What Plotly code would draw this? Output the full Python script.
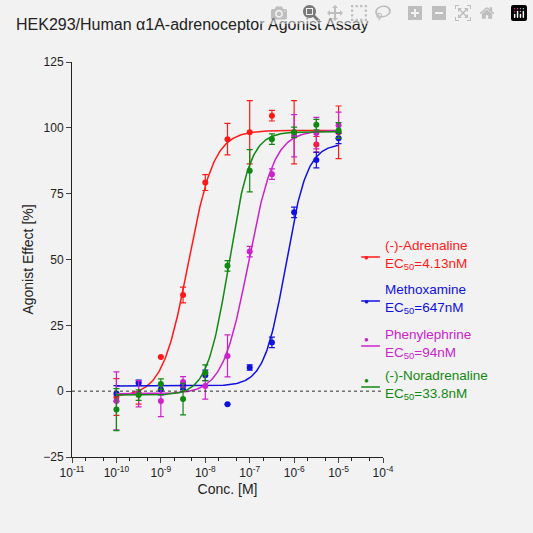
import plotly.graph_objects as go
import numpy as np

conc = [1e-10, 3.16e-10, 1e-9, 3.16e-9, 1e-8, 3.16e-8, 1e-7, 3.16e-7, 1e-6, 3.16e-6, 1e-5]
names = ["(-)-Adrenaline", "Methoxamine", "Phenylephrine", "(-)-Noradrenaline"]
ec50_labels = ["4.13nM", "647nM", "94nM", "33.8nM"]
colors = ["#ff1a1a", "#1010e0", "#cc22cc", "#118811"]
values = [
    [-2.2, -0.9, 13.0, 36.5, 79.2, 95.7, 98.3, 104.6, 98.3, 93.7, 98.3],
    [-0.9, 3.2, 0.6, 1.6, 6.0, -5.0, 9.0, 18.5, 67.9, 87.8, 96.0],
    [-3.7, -1.0, -3.7, 3.5, 2.0, 13.4, 53.0, 82.4, 97.0, 98.0, 101.0],
    [-7.0, -1.5, 2.7, -3.0, 7.0, 47.6, 83.7, 95.7, 98.3, 101.2, 99.0],
]
errors = [
    [7, 4, 0, 3, 3, 6, 12, 2, 12, 3, 10],
    [3, 1, 2, 1, 2, 0, 1, 2, 2, 3, 2],
    [11, 5, 6, 2, 5, 8, 2, 2, 8, 6, 5],
    [8, 2, 2, 6, 3, 2, 8, 2, 2, 2, 3],
]
# fit parameters: bottom, top, EC50 (M), hill slope
fits = [
    (-2.0, 99.0, 4.13e-9, 1.5),
    (2.0, 94.0, 647e-9, 1.8),
    (-1.0, 99.0, 94e-9, 1.5),
    (-1.5, 98.5, 33.8e-9, 1.8),
]

fig = go.Figure()
xc = np.logspace(-10, -5, 300)
for i in range(4):
    b, t, ec, h = fits[i]
    yc = b + (t - b) / (1 + (ec / xc) ** h)
    fig.add_trace(go.Scatter(x=xc, y=yc, mode="lines", line=dict(color=colors[i], width=1.5), showlegend=False))
    fig.add_trace(go.Scatter(x=conc, y=values[i], mode="markers",
                             marker=dict(color=colors[i], size=6),
                             error_y=dict(type="data", array=errors[i], color=colors[i], thickness=1.2, width=3),
                             showlegend=False))

fig.add_hline(y=0, line=dict(color="#333", width=1, dash="dot"))

# legend (pixel y of the legend line)
leg_y = [257, 301, 346, 387]
for i in range(4):
    yp = (457 - leg_y[i]) / 395
    fig.add_shape(type="line", xref="paper", yref="paper", x0=0.93, x1=0.99,
                  y0=yp, y1=yp, line=dict(color=colors[i], width=1.5))
    fig.add_annotation(xref="paper", yref="paper", x=0.96, y=yp, text="●",
                       showarrow=False, font=dict(color=colors[i], size=8))
    fig.add_annotation(xref="paper", yref="paper", x=1.0, y=yp + 0.005, xanchor="left",
                       yanchor="middle", align="left",
                       text=f"{names[i]}<br>EC<sub>50</sub>={ec50_labels[i]}", showarrow=False,
                       font=dict(color=colors[i], size=13.5))

fig.update_layout(
    width=533, height=533,
    paper_bgcolor="#f2f2f2", plot_bgcolor="#f2f2f2",
    margin=dict(l=72, r=150, t=62, b=76),
    font=dict(family="Liberation Sans, Arial", color="#222", size=12),
    title=dict(text="HEK293/Human α1A-adrenoceptor Agonist Assay", x=0.03, y=0.965, xanchor="left",
               font=dict(size=16, color="#222")),
    showlegend=False,
)
fig.update_xaxes(type="log", range=[-11, -4], showgrid=False, zeroline=False,
                 showline=True, linecolor="#222", ticks="outside", ticklen=5,
                 tickvals=[1e-11, 1e-10, 1e-9, 1e-8, 1e-7, 1e-6, 1e-5, 1e-4],
                 ticktext=["10<sup>-11</sup>", "10<sup>-10</sup>", "10<sup>-9</sup>", "10<sup>-8</sup>",
                           "10<sup>-7</sup>", "10<sup>-6</sup>", "10<sup>-5</sup>", "10<sup>-4</sup>"],
                 minor=dict(ticks="outside", ticklen=3, tickcolor="#222"),
                 title=dict(text="Conc. [M]", standoff=4, font=dict(size=14)))
fig.update_yaxes(range=[-25, 125], showgrid=False, zeroline=False,
                 showline=True, linecolor="#222", ticks="outside", ticklen=5,
                 tickvals=[-25, 0, 25, 50, 75, 100, 125],
                 title=dict(text="Agonist Effect [%]", standoff=6, font=dict(size=14)))
fig.write_html("out.html", post_script="document.body.style.margin='0';document.body.style.overflow='hidden';")
